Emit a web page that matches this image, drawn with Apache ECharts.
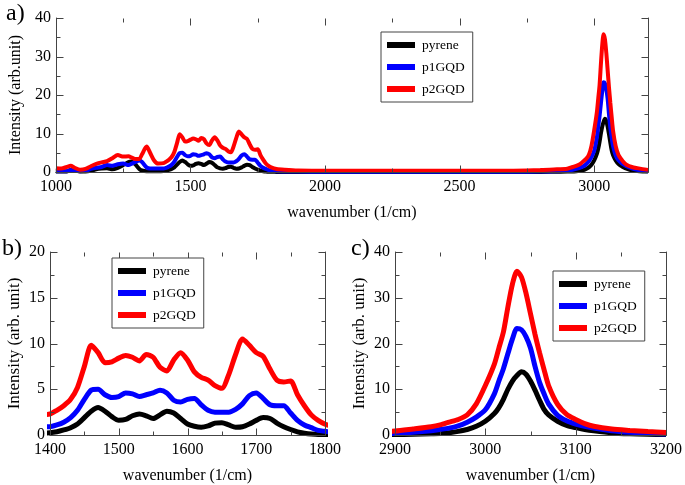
<!DOCTYPE html>
<html>
<head>
<meta charset="utf-8">
<script src="https://cdn.jsdelivr.net/npm/echarts@6/dist/echarts.min.js"></script>
<style>
html,body{margin:0;padding:0;background:#fff;}
#chart{width:685px;height:485px;}
</style>
</head>
<body>
<div id="chart"></div>
<script>
// ---------- data ----------
const seriesNames = ['pyrene', 'p1GQD', 'p2GQD'];

const wnA = [1000,1020,1040,1055,1070,1090,1110,1130,1150,1170,1190,1210,1230,1250,1270,1280,1295,1310,1320,1337,1350,1365,1380];
const wnB = [1400,1410,1420,1430,1440,1450,1460,1470,1480,1490,1500,1510,1520,1530,1540,1550,1560,1570,1580,1590,1600,1610,1620,1630,1640,1650,1660,1670,1680,1690,1700,1710,1720,1730,1740,1750,1760,1770,1780,1790,1800];
const wnC = [1820,1850,1900,2000,2200,2400,2600,2700,2800,2850];
const wnD = [2900,2920,2940,2950,2960,2970,2980,2990,3000,3010,3015,3020,3025,3030,3035,3040,3045,3050,3055,3060,3065,3070,3080,3090,3100,3110,3120,3140,3160,3180,3200];

const pyreneA = [0.1,0.1,0.15,0.5,0.3,0.15,0.1,0.3,0.7,0.9,1.0,0.7,1.1,1.8,2.6,2.7,2.0,0.8,0.4,0.2,0.2,0.2,0.2];
const pyreneB = [0.25,0.35,0.55,0.8,1.2,1.9,2.6,3.0,2.6,2.0,1.6,1.7,2.1,2.3,2.1,1.8,2.2,2.6,2.4,1.8,1.2,0.95,0.85,1.0,1.3,1.35,1.1,0.85,0.9,1.2,1.6,1.9,1.8,1.3,0.9,0.6,0.35,0.2,0.1,0.05,0.05];
const pyreneC = [0.02,0,0,0,0,0,0,0,0,0.05];
const pyreneD = [0.1,0.15,0.25,0.3,0.5,0.8,1.2,1.9,3.0,4.7,6.0,7.8,10.0,11.8,13.0,13.8,13.3,11.8,9.8,7.6,5.6,4.4,3.0,2.1,1.6,1.2,0.9,0.45,0.25,0.15,0.1];

const p1A = [0.2,0.2,0.2,0.5,0.3,0.2,0.3,0.8,1.1,1.3,1.8,1.6,2.0,2.2,1.8,2.1,2.6,3.0,2.6,1.2,0.9,0.9,0.9];
const p1B = [0.9,1.1,1.4,1.9,2.7,3.9,4.9,5.0,4.4,4.1,4.2,4.6,4.5,4.2,4.4,4.6,4.9,4.6,3.8,3.6,3.9,4.0,3.3,2.7,2.5,2.5,2.5,2.8,3.4,4.3,4.6,4.0,3.3,3.2,3.2,2.4,1.6,1.1,0.8,0.5,0.4];
const p1C = [0.2,0.15,0.1,0.05,0.05,0.05,0.05,0.05,0.1,0.2];
const p1D = [0.35,0.6,0.95,1.2,1.5,2.0,2.8,3.9,5.5,9.0,11.8,14.5,17.8,21.0,23.3,23.0,21.5,19.0,15.0,11.5,9.0,6.8,4.3,3.1,2.4,1.9,1.5,0.95,0.6,0.35,0.2];

const p2A = [1.0,0.9,1.3,1.6,1.1,0.6,0.8,1.5,2.1,2.5,2.8,3.6,4.4,4.0,4.1,3.8,3.4,3.4,4.6,6.6,5.0,3.0,2.2];
const p2B = [2.3,2.7,3.2,3.9,5.2,7.5,9.8,9.0,7.9,8.0,8.4,8.7,8.5,8.1,8.8,8.5,7.4,7.0,8.2,9.0,8.2,6.9,6.3,6.0,5.4,5.1,6.6,8.8,10.5,9.8,9.0,8.6,7.2,6.0,5.8,5.9,4.4,3.2,2.2,1.6,1.2];
const p2C = [0.8,0.6,0.4,0.3,0.3,0.3,0.3,0.35,0.5,0.65];
const p2D = [0.85,1.3,1.8,2.2,2.8,3.4,4.4,6.8,10.8,15.5,19.0,22.5,28.0,33.0,35.8,34.5,31.0,26.5,22.0,18.0,14.3,10.8,6.7,4.5,3.4,2.5,1.9,1.3,1.0,0.75,0.55];

const panelAx = {min:1000, max:3200, step:500};
const panelAy = {min:0, max:40, step:10};
const panelBx = {min:1400, max:1800, step:100};
const panelBy = {min:0, max:20, step:5};
const panelCx = {min:2900, max:3200, step:100};
const panelCy = {min:0, max:40, step:10};

// ---------- build ----------
const wavenumber = wnA.concat(wnB, wnC, wnD);
const values = [
  pyreneA.concat(pyreneB, pyreneC, pyreneD),
  p1A.concat(p1B, p1C, p1D),
  p2A.concat(p2B, p2C, p2D)
];
const colors = ['#000000', '#0000ff', '#ff0000'];
const FONT = '"Liberation Serif", "DejaVu Serif", serif';
const frame = '#444';

function pairs(vals){ return wavenumber.map((w,i)=>[w, vals[i]]); }

function axisCommon(grid, r, showLabels, margin){
  return {
    gridIndex: grid, type:'value', min:r.min, max:r.max, interval:r.step, z:5,
    axisLine:{show:true, lineStyle:{color:frame}},
    axisTick:{show:false},
    minorTick:{show:false},
    splitLine:{show:false},
    axisLabel:{show:showLabels, fontSize:16, fontFamily:FONT, color:'#000', margin:margin,
               formatter: v => ((v - r.min) % r.step === 0 ? String(v) : '')}
  };
}
function xMain(grid, r){
  return Object.assign(axisCommon(grid, r, true, 7), {
    name:'wavenumber (1/cm)', nameLocation:'middle', nameGap:33,
    nameTextStyle:{fontSize:16, fontFamily:FONT, color:'#000'}
  });
}
function xMirror(grid, r){ return Object.assign(axisCommon(grid, r, false, 7), {position:'top'}); }
function yMain(grid, r, name, size){
  return Object.assign(axisCommon(grid, r, true, 5), {
    name:name, nameLocation:'middle', nameGap:27,
    nameTextStyle:{fontSize:size, fontFamily:FONT, color:'#000'}
  });
}
function yMirror(grid, r){ return Object.assign(axisCommon(grid, r, false, 5), {position:'right'}); }

const grids = [
  {left:50, top:18, width:598, height:154},
  {left:50, top:252, width:275, height:183},
  {left:395, top:252, width:273, height:183}
];
const ranges = [[panelAx, panelAy], [panelBx, panelBy], [panelCx, panelCy]];

const xAxes = [
  xMain(0, panelAx), xMirror(0, panelAx),
  xMain(1, panelBx), xMirror(1, panelBx),
  xMain(2, panelCx), xMirror(2, panelCx)
];
const yAxes = [
  yMain(0, panelAy, 'Intensity (arb.unit)', 16), yMirror(0, panelAy),
  yMain(1, panelBy, 'Intensity (arb. unit)', 17), yMirror(1, panelBy),
  yMain(2, panelCy, 'Intensity (arb. unit)', 17), yMirror(2, panelCy)
];

const series = [];
const lineW = [4, 5, 5];
for (let g = 0; g < 3; g++) {
  for (let s = 0; s < 3; s++) {
    series.push({
      type:'line', name: seriesNames[s],
      xAxisIndex: g*2, yAxisIndex: g*2,
      data: pairs(values[s]),
      showSymbol:false, symbol:'none', smooth:0.25,
      lineStyle:{color:colors[s], width:lineW[g]},
      itemStyle:{color:colors[s]}, z:2
    });
  }
}

// inward frame ticks on all four sides, placed through the axes' own scales
function tickValues(r, minor){
  const out = [];
  const start = minor ? r.min + r.step / 2 : r.min;
  for (let v = start; v <= r.max + 1e-9; v += r.step) out.push(v);
  return out;
}
function tickSeries(g, pts, isX, len, dir){
  return {
    type:'custom', xAxisIndex:g*2, yAxisIndex:g*2, data:pts,
    silent:true, clip:false, z:10, animation:false,
    renderItem: function(params, api){
      const p = api.coord([api.value(0), api.value(1)]);
      const x = Math.round(p[0]) + 0.5, y = Math.round(p[1]) + 0.5;
      const shape = isX ? {x1:x, y1:y, x2:x, y2:y + dir*len}
                        : {x1:x, y1:y, x2:x + dir*len, y2:y};
      return {type:'line', shape:shape, style:{stroke:frame, lineWidth:1}};
    }
  };
}
for (let g = 0; g < 3; g++) {
  const rx = ranges[g][0], ry = ranges[g][1];
  [[false, 7], [true, 4]].forEach(([minor, len]) => {
    const xv = tickValues(rx, minor), yv = tickValues(ry, minor);
    series.push(tickSeries(g, xv.map(v => [v, ry.min]), true, len, -1));
    series.push(tickSeries(g, xv.map(v => [v, ry.max]), true, len, 1));
    series.push(tickSeries(g, yv.map(v => [rx.min, v]), false, len, 1));
    series.push(tickSeries(g, yv.map(v => [rx.max, v]), false, len, -1));
  });
}

function legend(left, top){
  return {
    left:left, top:top, orient:'vertical',
    data: seriesNames,
    icon:'rect', itemWidth:28, itemHeight:6, itemGap:8,
    padding:[6,8,6,6], borderColor:'#444', borderWidth:1,
    backgroundColor:'#fff', z:20,
    selectedMode:false,
    textStyle:{fontSize:13.5, fontFamily:FONT, color:'#000', padding:[0,0,0,2]}
  };
}

const option = {
  backgroundColor:'#fff',
  animation:false,
  grid: grids,
  xAxis: xAxes,
  yAxis: yAxes,
  legend: [legend(381, 32), legend(112, 258), legend(553, 271)],
  graphic: [
    {type:'text', left:6, top:2, style:{text:'a)', font:'24px "Liberation Serif", serif', fill:'#000'}},
    {type:'text', left:2, top:237, style:{text:'b)', font:'24px "Liberation Serif", serif', fill:'#000'}},
    {type:'text', left:351, top:237, style:{text:'c)', font:'24px "Liberation Serif", serif', fill:'#000'}}
  ],
  series: series
};

const chart = echarts.init(document.getElementById('chart'));
chart.setOption(option);
</script>
</body>
</html>
